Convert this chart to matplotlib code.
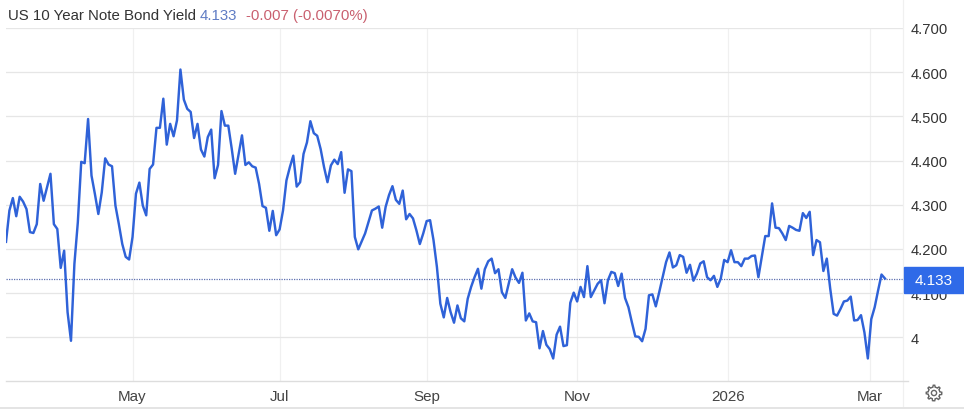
import numpy as np
import matplotlib
matplotlib.use("Agg")
import matplotlib.pyplot as plt
from matplotlib.patches import Rectangle, Polygon, Circle
from matplotlib.lines import Line2D

plt.rcParams['font.family'] = ['Liberation Sans', 'DejaVu Sans']

# daily yield
mar_apr = [4.216, 4.287, 4.315, 4.274, 4.318, 4.307, 4.290, 4.238, 4.236, 4.256, 4.347, 4.309,
           4.339, 4.370, 4.256, 4.245, 4.157, 4.196, 4.057, 3.992, 4.166, 4.260, 4.397, 4.394,
           4.494, 4.366, 4.324, 4.279, 4.328, 4.405, 4.391, 4.387, 4.298, 4.256, 4.211, 4.182, 4.176]
may_jun = [4.227, 4.325, 4.350, 4.298, 4.276, 4.381, 4.391, 4.474, 4.474, 4.540, 4.436, 4.483,
           4.455, 4.491, 4.606, 4.538, 4.517, 4.510, 4.451, 4.483, 4.425, 4.409, 4.453, 4.470,
           4.360, 4.390, 4.512, 4.479, 4.479, 4.427, 4.370, 4.413, 4.457, 4.390, 4.396, 4.387, 4.384]
jul_aug = [4.347, 4.297, 4.293, 4.241, 4.286, 4.231, 4.244, 4.287, 4.355, 4.385, 4.411, 4.341,
           4.351, 4.415, 4.441, 4.489, 4.462, 4.456, 4.426, 4.385, 4.351, 4.389, 4.402, 4.392,
           4.419, 4.327, 4.380, 4.376, 4.227, 4.199, 4.217, 4.235, 4.261, 4.287, 4.291, 4.296]
aug_dec = [4.248, 4.295, 4.322, 4.342, 4.311, 4.302, 4.332, 4.267, 4.279, 4.269, 4.242, 4.211,
           4.235, 4.263, 4.265, 4.220, 4.159, 4.076, 4.045, 4.089, 4.057, 4.033, 4.072, 4.043,
           4.036, 4.087, 4.114, 4.136, 4.155, 4.110, 4.154, 4.172, 4.178, 4.145, 4.154, 4.102,
           4.089, 4.121, 4.154, 4.135, 4.123, 4.146, 4.038, 4.054, 4.036, 4.034, 3.975, 4.014,
           3.983, 3.973, 3.952, 4.006, 4.024, 3.980, 3.982, 4.078, 4.101, 4.081, 4.114, 4.091,
           4.161, 4.091, 4.106, 4.121, 4.129, 4.077, 4.129, 4.148, 4.145, 4.116, 4.144, 4.089,
           4.068, 4.034, 4.002, 4.001, 3.991, 4.019, 4.095, 4.097, 4.070, 4.102, 4.136, 4.170,
           4.192, 4.158, 4.163, 4.186]
dec_mar = [4.182, 4.146, 4.164, 4.128, 4.144, 4.167, 4.172, 4.136, 4.129, 4.139, 4.114, 4.133,
           4.175, 4.170, 4.197, 4.170, 4.170, 4.161, 4.178, 4.178, 4.184, 4.185, 4.136, 4.182,
           4.229, 4.229, 4.303, 4.248, 4.247, 4.235, 4.220, 4.252, 4.248, 4.243, 4.241, 4.281,
           4.270, 4.284, 4.186, 4.220, 4.215, 4.150, 4.178, 4.110, 4.053, 4.049, 4.064, 4.081,
           4.083, 4.092, 4.038, 4.039, 4.050, 4.011, 3.952, 4.041, 4.068, 4.106, 4.142, 4.133]
yields = mar_apr + may_jun + jul_aug + aug_dec + dec_mar

month_pos = [37, 80, 123, 167, 211, 252.5]
month_labels = ['May', 'Jul', 'Sep', 'Nov', '2026', 'Mar']
y_ticks = [4.0, 4.1, 4.2, 4.3, 4.4, 4.5, 4.6, 4.7]
y_labels = ['4', '4.100', '4.200', '4.300', '4.400', '4.500', '4.600', '4.700']
last_value = 4.133

W, H = 964, 410
LINE = '#2f62d8'
TEXT = '#333333'

fig = plt.figure(figsize=(W / 100, H / 100), dpi=100)
ax = fig.add_axes([6 / W, (H - 382) / H, (903 - 6) / W, (382 - 29) / H])
ax.set_xlim(0, (903 - 6) / 3.42)
ax.set_ylim(3.901, 4.7)

for s in ax.spines.values():
    s.set_visible(False)
ax.set_axisbelow(True)
ax.set_xticks(month_pos)
ax.set_xticklabels(month_labels, fontsize=10.9, color='#444444')
ax.set_yticks(y_ticks)
ax.set_yticklabels(y_labels, fontsize=10.6, color='#333333')
ax.yaxis.tick_right()
ax.tick_params(axis='both', length=0)
ax.tick_params(axis='y', pad=5.5)
ax.tick_params(axis='x', pad=6)
ax.grid(axis='y', color='#e6e6e6', lw=0.9)
ax.grid(axis='x', color='#f0f0f0', lw=0.9)

ax.axhline(last_value, color='#5f70b0', lw=0.9, ls=(0, (1, 1)), zorder=2)
ax.plot(range(len(yields)), yields, color=LINE, lw=1.75, zorder=3)

# everything outside the plot, placed in pixels
over = fig.add_axes([0, 0, 1, 1], facecolor='none')
over.set_xlim(0, W)
over.set_ylim(H, 0)
over.axis('off')
over.add_patch(Rectangle((904, 268), 60, 26, color='#2f6ae8', zorder=5))
over.text(934, 281.5, f'{last_value:.3f}', color='white', ha='center', va='center', fontsize=11, zorder=6)
over.add_line(Line2D([903, 903], [0, 408], color='#f0f0f0', lw=0.9))
over.add_line(Line2D([6, 908], [382, 382], color='#dddddd', lw=1.0))
over.add_line(Line2D([0, W], [408.5, 408.5], color='#e4e4e4', lw=1.4))

over.text(8, 16, 'US 10 Year Note Bond Yield', color=TEXT, ha='left', va='center', fontsize=10.8)
over.text(200, 16, '4.133', color='#5f7cc4', ha='left', va='center', fontsize=10.8)
over.text(246, 16, '-0.007 (-0.0070%)', color='#c9606f', ha='left', va='center', fontsize=10.8)

# settings gear
ang = np.linspace(0, 2 * np.pi, 65)[:-1]
rad = 7.8 - 1.9 * (np.cos(8 * ang) < 0)
over.add_patch(Polygon(np.c_[934 + rad * np.cos(ang), 394 + rad * np.sin(ang)], closed=True,
                       fill=False, ec='#666666', lw=1.0))
over.add_patch(Circle((934, 394), 2.6, fill=False, ec='#666666', lw=1.0))

fig.savefig('out.png', dpi=100)
